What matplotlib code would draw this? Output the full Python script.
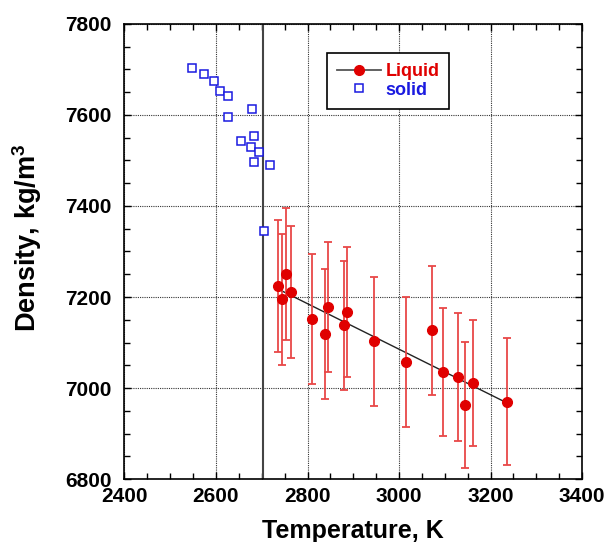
import numpy as np
import matplotlib
matplotlib.use("Agg")
import matplotlib.pyplot as plt
from matplotlib.ticker import MultipleLocator

plt.rcParams['font.family'] = ['Liberation Sans', 'DejaVu Sans']
plt.rcParams['font.weight'] = 'bold'
plt.rcParams['mathtext.fontset'] = 'custom'
plt.rcParams['mathtext.bf'] = 'Liberation Sans:bold'

# solid phase
t_solid = [2548, 2573, 2595, 2609, 2626, 2679, 2626, 2684, 2654, 2676,
           2693, 2682, 2717, 2704]
d_solid = [7703, 7690, 7675, 7653, 7642, 7614, 7595, 7553, 7542, 7529,
           7519, 7497, 7489, 7345]

# liquid phase
t_liq = [2735, 2745, 2754, 2765, 2809, 2838, 2844, 2879, 2887, 2946,
         3015, 3071, 3097, 3129, 3144, 3161, 3235]
d_liq = [7224, 7195, 7250, 7211, 7152, 7119, 7178, 7138, 7167, 7103,
         7057, 7127, 7035, 7024, 6963, 7011, 6970]
err_liq = [145, 144, 145, 144, 143, 143, 142, 142, 142, 142,
           142, 142, 140, 140, 139, 139, 139]

t_melt = 2702

fig = plt.figure(figsize=(6.07, 5.42), dpi=100)
ax = fig.add_axes([0.205, 0.116, 0.754, 0.840])

ax.grid(True, which='major', color='black', linestyle=(0, (1, 1)), linewidth=0.8, alpha=0.8)
ax.axvline(t_melt, color='#444444', linewidth=1.5, zorder=2)

# linear fit through liquid data
coef = np.polyfit(t_liq, d_liq, 1)
tf = np.array([min(t_liq) + 8, max(t_liq)])
ax.plot(tf, np.polyval(coef, tf), color='#222222', linewidth=1.0, zorder=3)

ax.errorbar(t_liq, d_liq, yerr=err_liq, fmt='none', ecolor='#e84848',
            elinewidth=1.3, capsize=2.6, capthick=1.3, zorder=4)
ax.plot(t_liq, d_liq, 'o', color='#e00000', markersize=7, zorder=5)
ax.plot(t_solid, d_solid, 's', markerfacecolor='white', markeredgecolor='#1a1ae0',
        markeredgewidth=1.1, markersize=5.6, linestyle='none', zorder=5)

# legend handles
h_liq, = ax.plot([], [], '-o', color='#555555', markerfacecolor='#e00000',
                 markeredgecolor='#e00000', markersize=7, linewidth=1.3)
h_sol, = ax.plot([], [], 's', markerfacecolor='white', markeredgecolor='#1a1ae0',
                 markeredgewidth=1.1, markersize=5.6, linestyle='none')
leg = ax.legend([h_liq, h_sol], ['Liquid', 'solid'], loc='upper left',
                bbox_to_anchor=(0.442, 0.936), borderaxespad=0, fancybox=False,
                framealpha=1, edgecolor='black', fontsize=13, handlelength=2.45,
                handletextpad=0.25, borderpad=0.55, labelspacing=0.1)
leg.get_frame().set_linewidth(1.2)
leg.get_texts()[0].set_color('#e00000')
leg.get_texts()[1].set_color('#1a1ae0')

ax.set_xlim(2400, 3400)
ax.set_ylim(6800, 7800)
ax.xaxis.set_major_locator(MultipleLocator(200))
ax.xaxis.set_minor_locator(MultipleLocator(50))
ax.yaxis.set_major_locator(MultipleLocator(200))
ax.yaxis.set_minor_locator(MultipleLocator(50))
ax.tick_params(which='both', direction='in', top=True, right=True, labelsize=15)
ax.tick_params(axis='y', which='major', pad=9)
ax.tick_params(axis='x', which='major', pad=6)
ax.tick_params(which='major', length=5, width=1)
ax.tick_params(which='minor', length=4, width=1)
for s in ax.spines.values():
    s.set_linewidth(1.2)

ax.set_xlabel('Temperature, K', fontsize=18, fontweight='bold')
ax.xaxis.set_label_coords(0.5, -0.087)
ax.set_ylabel('Density, kg/m$^\\mathbf{3}$', fontsize=19.5, fontweight='bold')
ax.yaxis.set_label_coords(-0.175, 0.53)

fig.savefig('out.png', dpi=100)
